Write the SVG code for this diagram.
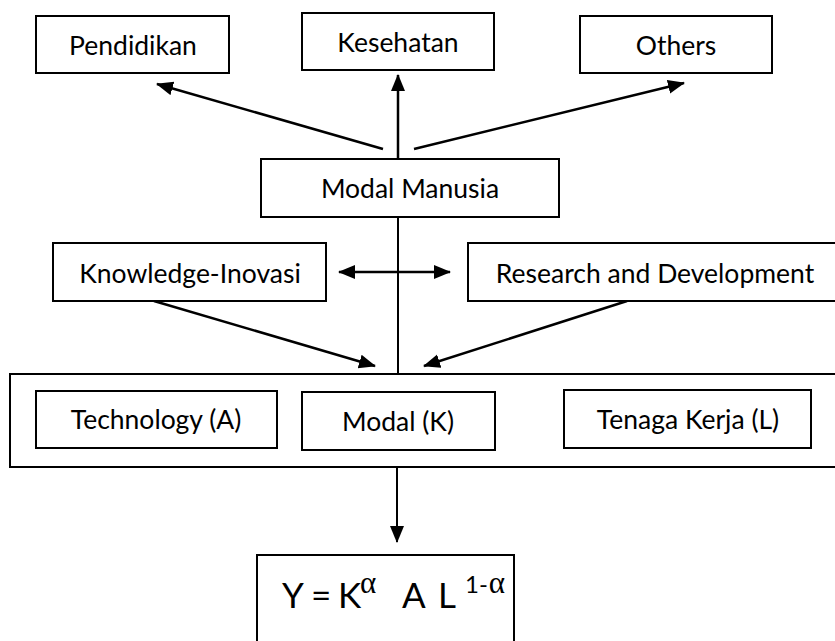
<svg xmlns="http://www.w3.org/2000/svg" width="835" height="641" viewBox="0 0 835 641">
<style>
.box{fill:#fff;stroke:#000;stroke-width:2}
.lbl{font-family:Lato,"Liberation Sans",sans-serif;font-size:26.5px;fill:#000;text-anchor:middle}
.eq{font-family:Lato,"Liberation Sans",sans-serif;font-size:35px;fill:#000}
.sup{font-family:Lato,"Liberation Sans",sans-serif;font-size:24px;fill:#000}
.gr{font-family:"Liberation Serif",serif;font-size:31px;fill:#000}
.arr{stroke:#000;stroke-width:2.5;fill:none}
.thin{stroke:#000;stroke-width:2;fill:none}
</style>
<defs>
<marker id="ah" markerUnits="userSpaceOnUse" markerWidth="18" markerHeight="16" refX="16" refY="7" orient="auto">
<path d="M0,0 L17,7 L0,14 Z" fill="#000"/>
</marker>
<marker id="ahs" markerUnits="userSpaceOnUse" markerWidth="18" markerHeight="16" refX="1" refY="7" orient="auto">
<path d="M17,0 L0,7 L17,14 Z" fill="#000"/>
</marker>
</defs>
<g id="connectors">
<line class="arr" x1="383" y1="149" x2="157" y2="84" marker-end="url(#ah)"/>
<line class="arr" x1="398" y1="159" x2="398" y2="75" marker-end="url(#ah)"/>
<line class="arr" x1="414" y1="149" x2="684" y2="83" marker-end="url(#ah)"/>
<line class="thin" x1="398" y1="217" x2="398" y2="374"/>
<line class="arr" x1="339" y1="272" x2="450" y2="272" marker-start="url(#ahs)" marker-end="url(#ah)"/>
<line class="arr" x1="154" y1="301" x2="375" y2="366" marker-end="url(#ah)"/>
<line class="arr" x1="627" y1="301" x2="424" y2="366" marker-end="url(#ah)"/>
<line class="thin" x1="397" y1="468" x2="397" y2="542" marker-end="url(#ah)"/>
</g>
<g id="pendidikan"><rect class="box" x="36" y="16" width="193" height="57"/><text class="lbl" x="133" y="55">Pendidikan</text></g>
<g id="kesehatan"><rect class="box" x="302" y="13" width="192" height="57"/><text class="lbl" x="398" y="52">Kesehatan</text></g>
<g id="others"><rect class="box" x="580" y="16" width="192" height="57"/><text class="lbl" x="676" y="55">Others</text></g>
<g id="modal-manusia"><rect class="box" x="261" y="159" width="298" height="58"/><text class="lbl" x="410" y="198">Modal Manusia</text></g>
<g id="knowledge"><rect class="box" x="53" y="243" width="273" height="58"/><text class="lbl" x="190" y="283">Knowledge-Inovasi</text></g>
<g id="research"><rect class="box" x="468" y="243" width="380" height="58"/><text class="lbl" x="655" y="283">Research and Development</text></g>
<g id="factors">
<rect class="box" x="10" y="374" width="840" height="93"/>
</g>
<g id="technology"><rect class="box" x="36" y="391" width="241" height="57"/><text class="lbl" x="156" y="429">Technology (A)</text></g>
<g id="modal-k"><rect class="box" x="302" y="392" width="193" height="58"/><text class="lbl" x="398" y="431">Modal (K)</text></g>
<g id="tenaga-kerja"><rect class="box" x="564" y="390" width="247" height="58"/><text class="lbl" x="688" y="429">Tenaga Kerja (L)</text></g>
<g id="formula">
<rect class="box" x="257" y="555" width="257" height="100"/>
<text class="eq" x="282" y="608">Y</text>
<text class="eq" x="311" y="608">=</text>
<text class="eq" x="338" y="608">K</text>
<text class="gr" x="360" y="593">α</text>
<text class="eq" x="402" y="608">A</text>
<text class="eq" x="438" y="608">L</text>
<text class="sup" x="465" y="593">1-<tspan class="gr" dx="1">α</tspan></text>
</g>
</svg>
